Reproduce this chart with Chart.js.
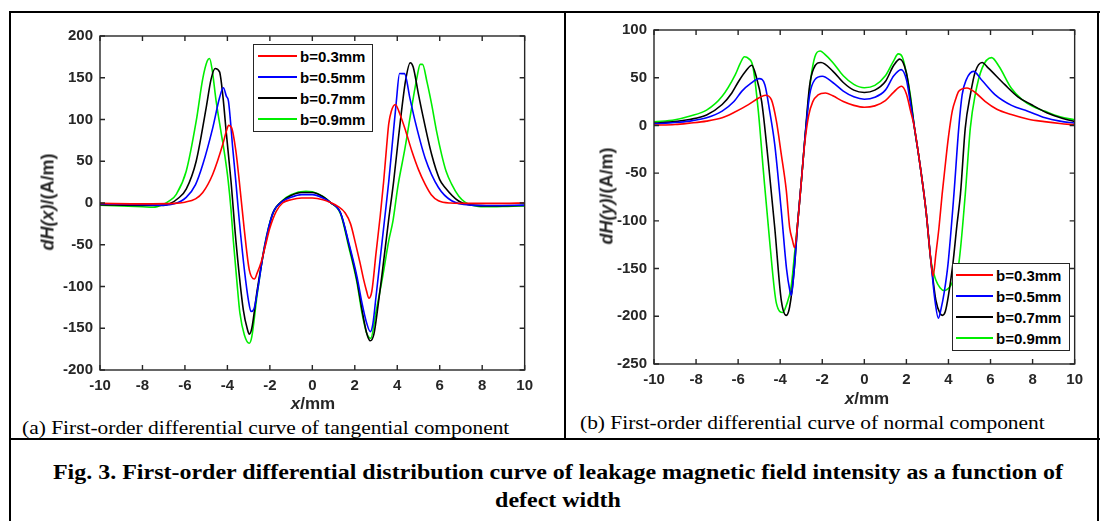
<!DOCTYPE html>
<html>
<head>
<meta charset="utf-8">
<title>First-order differential curves</title>
<script src="https://cdn.jsdelivr.net/npm/chart.js@4.4.1/dist/chart.umd.min.js"></script>
<style>
  html, body { margin: 0; padding: 0; background: #fff; }
  #page { position: relative; width: 1100px; height: 521px; overflow: hidden; }
  .rule { position: absolute; background: #000; }
  .plot { position: absolute; }
  .axis-title {
    position: absolute; white-space: nowrap; color: #262626;
    font-family: 'Liberation Sans', Arial, sans-serif; font-weight: bold;
  }
  .ytitle { font-size: 18px; transform: translate(-50%, -50%) rotate(-90deg); }
  .xtitle { font-size: 17px; transform: translate(-50%, -50%); }
  .legend {
    position: absolute; background: #fff; box-sizing: border-box;
    border: 1.5px solid #262626;
  }
  .legend .swatch { position: absolute; height: 2px; }
  .legend .label {
    position: absolute; white-space: nowrap; color: #000; line-height: 16px;
    font: bold 15px 'Liberation Sans', Arial, sans-serif;
  }
  .caption {
    position: absolute; white-space: nowrap; color: #000;
    font-family: 'Liberation Serif', 'Times New Roman', serif;
  }
  .sub { font-size: 18px; transform-origin: left center; transform: translateY(-50%) scaleX(1.19); }
  .fig {
    left: 8px; width: 1100px; text-align: center; font-weight: bold; font-size: 22px;
    transform: translateY(-50%) scaleX(1.09);
  }
</style>
</head>
<body>
<div id="page">
  <div class="rule" style="left:9px; top:11px; width:1091px; height:2px"></div>
  <div class="rule" style="left:9px; top:11px; width:2px; height:510px"></div>
  <div class="rule" style="left:1097px; top:11px; width:2px; height:510px"></div>
  <div class="rule" style="left:564px; top:11px; width:2px; height:429px"></div>
  <div class="rule" style="left:9px; top:438px; width:1091px; height:2px"></div>

  <canvas id="tanChart" class="plot" width="500" height="390" style="left:40px; top:20px"></canvas>
  <canvas id="norChart" class="plot" width="500" height="390" style="left:590px; top:14px"></canvas>

  <div class="axis-title ytitle" style="left:48px; top:202px"><i>dH(x)</i>/(A/m)</div>
  <div class="axis-title xtitle" style="left:313px; top:404px"><i>x</i>/mm</div>
  <div class="axis-title ytitle" style="left:607px; top:196px"><i>dH(y)</i>/(A/m)</div>
  <div class="axis-title xtitle" style="left:867px; top:399px"><i>x</i>/mm</div>

  <div id="tanLegend" class="legend" style="left:253px; top:44px; width:120px; height:88px"></div>
  <div id="norLegend" class="legend" style="left:952px; top:263px; width:118px; height:88px"></div>

  <div class="caption sub" style="left:22px; top:428px">(a) First-order differential curve of tangential component</div>
  <div class="caption sub" style="left:580px; top:423px">(b) First-order differential curve of normal component</div>
  <div class="caption fig" style="top:472px">Fig. 3. First-order differential distribution curve of leakage magnetic field intensity as a function of</div>
  <div class="caption fig" style="top:500px">defect width</div>
</div>

<script>
// ─── Data ─────────────────────────────────────────────────────────────────────

const seriesLabels = ['b=0.3mm', 'b=0.5mm', 'b=0.7mm', 'b=0.9mm'];

const xTickValues = [-10, -8, -6, -4, -2, 0, 2, 4, 6, 8, 10];
const tanTickValues = [-200, -150, -100, -50, 0, 50, 100, 150, 200];
const norTickValues = [-250, -200, -150, -100, -50, 0, 50, 100];

// (a) tangential component dH(x)
const tanX03 = [-10, -8, -6.5, -6, -5.5, -5.16, -4.69, -4.22, -4.05, -3.94, -3.8, -3.6, -3.44, -3.2, -2.97, -2.73, -2.6, -2.4, -2.2, -2.0, -1.7, -1.4, -1.0, -0.5, 0, 0.5, 0.86, 1.2, 1.55, 1.8, 2.03, 2.25, 2.42, 2.55, 2.66, 2.8, 3.0, 3.2, 3.36, 3.5, 3.6, 3.72, 3.91, 4.1, 4.4, 4.69, 5.0, 5.31, 5.6, 5.94, 6.5, 7.5, 9, 10];
const tanY03 = [-0.5, -1, -0.5, 1, 5, 12.6, 34.5, 70, 86, 93, 90, 62, 26, -33, -80, -91, -84, -70, -50, -30, -10, 0, 4, 6, 6, 4, 0.5, -4, -12, -25, -48, -72, -92, -105, -114, -106, -60, -15, 26, 68, 95, 110, 118, 108, 86, 62, 40, 22.6, 10, 2.7, 0, -0.5, -0.5, 0];

const tanX05 = [-10, -8, -7, -6.5, -5.94, -5.5, -5.16, -4.69, -4.37, -4.19, -4.05, -3.95, -3.75, -3.6, -3.44, -3.2, -3.0, -2.89, -2.75, -2.55, -2.26, -1.87, -1.4, -1.0, -0.5, 0, 0.5, 0.86, 1.33, 1.72, 2.1, 2.34, 2.55, 2.73, 2.85, 3.0, 3.2, 3.41, 3.6, 3.8, 3.95, 4.11, 4.34, 4.6, 4.84, 5.31, 5.94, 6.56, 7.5, 8.5, 10];
const tanY05 = [-1, -2, -2.5, -1, 6.7, 22, 46, 90, 126, 138, 128, 122, 66, 25, -21, -80, -118, -130, -127, -100, -53, -13, 2, 7, 10, 10, 6, 0.5, -12, -48, -88, -120, -143, -154, -145, -112, -66, -18, 26, 80, 120, 155, 155, 125, 98, 54, 18.6, 2.7, -2.5, -3, -2.5];

const tanX07 = [-10, -8, -7, -6.72, -6.3, -5.94, -5.47, -5.0, -4.77, -4.58, -4.37, -4.2, -4.06, -3.83, -3.6, -3.25, -3.05, -2.97, -2.85, -2.6, -2.26, -1.87, -1.4, -1.0, -0.5, 0, 0.5, 0.86, 1.33, 1.72, 2.1, 2.34, 2.55, 2.73, 2.9, 3.1, 3.3, 3.59, 3.83, 4.0, 4.2, 4.4, 4.61, 4.75, 5.0, 5.16, 5.62, 6.0, 6.25, 6.87, 7.5, 8.5, 10];
const tanY07 = [-2, -3, -3, -1, 6, 16.6, 50, 114, 148, 161, 157, 125, 86, 26, -45, -128, -152, -157, -150, -105, -55, -13, 2.5, 9, 12.5, 12.5, 7.5, 0.5, -12, -50, -92, -128, -155, -165, -157, -122, -82, -21, 26, 65, 110, 148, 168, 163, 130, 110, 58, 28, 18.6, 2.7, -2.5, -3.5, -3];

const tanX09 = [-10, -9, -8, -7.5, -7.05, -6.7, -6.4, -5.94, -5.47, -5.16, -4.95, -4.84, -4.72, -4.53, -4.3, -4.14, -3.96, -3.83, -3.72, -3.55, -3.41, -3.2, -2.97, -2.85, -2.6, -2.26, -1.87, -1.4, -1.0, -0.3, 0, 0.5, 0.86, 1.33, 1.72, 2.1, 2.34, 2.55, 2.75, 3.0, 3.3, 3.6, 3.8, 4.03, 4.36, 4.69, 4.94, 5.08, 5.19, 5.4, 5.62, 5.85, 6.09, 6.3, 6.56, 6.9, 7.19, 7.81, 8.5, 9.2, 10];
const tanY09 = [-2.5, -3.5, -4.5, -5, -2, 3, 10.7, 38, 98, 149, 170, 173, 160, 122, 85, 60, 26, -8, -45, -95, -132, -158, -168, -160, -110, -53, -13, 3, 10, 14, 13.5, 8, 0.5, -13, -53, -95, -132, -155, -162, -130, -90, -45, -21, 20, 65, 116, 152, 166, 166, 145, 118, 86, 58, 38, 22.6, 8, 1, -4, -4.5, -4, -3.5];

// (b) normal component dH(y)
const norX03 = [-10, -9, -8.32, -7.5, -6.76, -6.2, -5.51, -5.0, -4.7, -4.42, -4.18, -3.95, -3.71, -3.55, -3.42, -3.32, -3.16, -3.0, -2.85, -2.65, -2.45, -2.2, -1.85, -1.5, -1.0, -0.5, 0, 0.5, 1.0, 1.4, 1.77, 2.0, 2.2, 2.38, 2.62, 2.93, 3.16, 3.27, 3.4, 3.55, 3.7, 3.87, 4.0, 4.18, 4.35, 4.49, 4.88, 5.3, 5.74, 6.3, 6.99, 7.8, 8.56, 9.3, 10];
const norY03 = [0.3, 1, 2.4, 4.5, 8, 13.5, 21.8, 29, 31.6, 27, 4.5, -30, -68, -107, -120, -128, -100, -60, -22, 10, 25, 32, 34, 31, 25, 21, 19, 20.5, 26, 35, 41, 33, 15, -2, -37, -89, -141, -158, -135, -107, -72, -37, -12, 15, 28, 35.7, 39.2, 34, 25.3, 17, 11.4, 6.5, 4, 2, 0.7];

const norX05 = [-10, -9, -8.32, -7.5, -6.76, -6.2, -5.83, -5.4, -5.0, -4.73, -4.5, -4.26, -3.95, -3.7, -3.55, -3.47, -3.35, -3.16, -3.0, -2.85, -2.6, -2.35, -2.0, -1.5, -1.0, -0.5, 0, 0.5, 1.0, 1.4, 1.75, 2.0, 2.2, 2.38, 2.62, 2.93, 3.16, 3.35, 3.52, 3.65, 3.79, 3.98, 4.26, 4.49, 4.65, 4.85, 5.19, 5.6, 6.21, 7.0, 7.77, 8.6, 9.3, 10];
const norY05 = [1.7, 3, 4.5, 8, 15, 25, 35.7, 44, 49, 42.7, 15, -19.8, -89, -150, -172, -178, -155, -100, -60, -20, 32, 48, 51.5, 45, 36, 30, 27.5, 29.5, 37, 52, 58.5, 48, 22, -2, -37, -89, -141, -182, -202, -192, -176, -145, -72, -2.5, 32, 48, 56.6, 47, 32.3, 21, 14.9, 8, 4.5, 2.4];

const norX07 = [-10, -9, -8.32, -7.5, -6.76, -6.3, -5.98, -5.6, -5.35, -5.15, -4.88, -4.57, -4.26, -3.95, -3.71, -3.55, -3.32, -3.16, -3.0, -2.85, -2.6, -2.4, -2.06, -1.5, -1.0, -0.5, 0, 0.5, 1.0, 1.4, 1.69, 2.0, 2.2, 2.38, 2.62, 2.93, 3.16, 3.4, 3.6, 3.71, 3.85, 4.0, 4.21, 4.4, 4.57, 4.8, 5.04, 5.27, 5.6, 5.9, 6.68, 7.3, 7.93, 8.7, 9.4, 10];
const norY07 = [2.4, 4, 6.2, 11, 21.9, 34, 46, 58, 63, 52, 25, -37, -107, -183, -199, -190, -148, -100, -60, -20, 42, 60, 66, 57, 45, 37, 34.5, 37, 46, 63, 69.5, 55, 27, -2, -37, -89, -141, -183, -197, -199, -195, -178, -145, -105, -72, -2.5, 32, 56, 66, 60, 42.7, 30, 21.9, 13, 7.5, 4.2];

const norX09 = [-10, -9, -8.32, -7.5, -6.76, -6.14, -5.9, -5.7, -5.5, -5.3, -5.04, -4.8, -4.49, -4.18, -3.87, -3.7, -3.48, -3.32, -3.16, -3.0, -2.85, -2.54, -2.35, -2.1, -1.9, -1.5, -1.0, -0.5, 0, 0.5, 1.0, 1.4, 1.61, 1.8, 2.0, 2.2, 2.38, 2.62, 2.93, 3.16, 3.4, 3.6, 3.79, 4.1, 4.3, 4.49, 4.8, 5.04, 5.27, 5.6, 6.05, 6.4, 6.99, 7.5, 8.0, 8.56, 9.3, 10];
const norY09 = [3.8, 6, 9.7, 16, 30.5, 53, 65, 72, 70, 62, 15, -47.6, -124, -186.5, -196, -188, -169, -135, -100, -60, -20, 49.6, 72, 78, 75, 66, 52, 43, 39.5, 42, 52, 68, 75, 72, 55, 30, -2, -37, -89, -141, -162, -170, -173, -168, -158, -145, -72, -2.5, 32, 60, 71, 62, 39, 27, 20, 15, 9, 5.9];

// ─── Shared style ─────────────────────────────────────────────────────────────

const lineColors = ['#ff0000', '#0000ff', '#000000', '#00ee00'];
const axisColor = '#262626';
const tickFont = { family: "'Liberation Sans', Arial, sans-serif", size: 15, weight: 'bold' };
const innerTick = 5;

// box round the plot area with inward tick marks on all four sides
const boxTicks = {
    id: 'boxTicks',
    afterDraw(chart) {
        const { ctx, chartArea: a, scales: { x, y } } = chart;
        ctx.save();
        ctx.strokeStyle = axisColor;
        ctx.lineWidth = 1.4;
        ctx.beginPath();
        x.ticks.forEach(t => {
            const px = x.getPixelForValue(t.value);
            ctx.moveTo(px, a.bottom); ctx.lineTo(px, a.bottom - innerTick);
            ctx.moveTo(px, a.top); ctx.lineTo(px, a.top + innerTick);
        });
        y.ticks.forEach(t => {
            const py = y.getPixelForValue(t.value);
            ctx.moveTo(a.left, py); ctx.lineTo(a.left + innerTick, py);
            ctx.moveTo(a.right, py); ctx.lineTo(a.right - innerTick, py);
        });
        ctx.stroke();
        ctx.strokeRect(a.left, a.top, a.right - a.left, a.bottom - a.top);
        ctx.restore();
    },
};

function toPoints(xs, ys) {
    return xs.map((x, i) => ({ x, y: ys[i] }));
}

function makePlot(canvasId, series, yTicks, box) {
    return new Chart(document.getElementById(canvasId), {
        type: 'line',
        data: {
            datasets: series.map(([xs, ys], i) => ({
                label: seriesLabels[i],
                data: toPoints(xs, ys),
                borderColor: lineColors[i],
                borderWidth: 1.6,
                pointRadius: 0,
                cubicInterpolationMode: 'monotone',
                fill: false,
            })),
        },
        options: {
            responsive: false,
            animation: false,
            layout: { padding: { top: box.top, right: box.right, left: 0, bottom: 0 } },
            plugins: { legend: { display: false }, tooltip: { enabled: false } },
            scales: {
                x: {
                    type: 'linear',
                    min: -10,
                    max: 10,
                    afterBuildTicks: s => { s.ticks = xTickValues.map(value => ({ value })); },
                    afterFit: s => { s.height = box.bottom; },
                    grid: { display: false, drawTicks: false },
                    border: { display: false },
                    ticks: { font: tickFont, color: axisColor, padding: 7, maxRotation: 0, autoSkip: false },
                },
                y: {
                    type: 'linear',
                    min: yTicks[0],
                    max: yTicks[yTicks.length - 1],
                    afterBuildTicks: s => { s.ticks = yTicks.map(value => ({ value })); },
                    afterFit: s => { s.width = box.left; },
                    grid: { display: false, drawTicks: false },
                    border: { display: false },
                    ticks: { font: tickFont, color: axisColor, padding: 7, autoSkip: false },
                },
            },
        },
        plugins: [boxTicks],
    });
}

function buildLegend(el, lineFrom, lineTo, textFrom) {
    seriesLabels.forEach((label, i) => {
        const mid = 11 + i * 21;
        const swatch = document.createElement('div');
        swatch.className = 'swatch';
        swatch.style.cssText = `left:${lineFrom}px; width:${lineTo - lineFrom}px; top:${mid - 1}px; background:${lineColors[i]}`;
        const text = document.createElement('div');
        text.className = 'label';
        text.style.cssText = `left:${textFrom}px; top:${mid - 8}px`;
        text.textContent = label;
        el.appendChild(swatch);
        el.appendChild(text);
    });
}

makePlot('tanChart',
    [[tanX03, tanY03], [tanX05, tanY05], [tanX07, tanY07], [tanX09, tanY09]],
    tanTickValues,
    { left: 60, top: 14, right: 13, bottom: 40 });

makePlot('norChart',
    [[norX03, norY03], [norX05, norY05], [norX07, norY07], [norX09, norY09]],
    norTickValues,
    { left: 64, top: 14, right: 9, bottom: 40 });

buildLegend(document.getElementById('tanLegend'), 4, 43, 46);
buildLegend(document.getElementById('norLegend'), 3, 40, 43);
</script>
</body>
</html>
